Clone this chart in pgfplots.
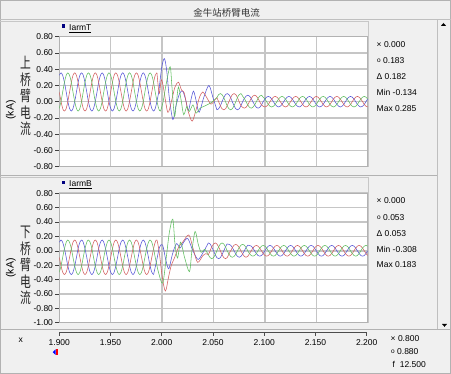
\documentclass[border=0pt]{standalone}
\usepackage{fontspec}
\setmainfont{Liberation Sans}
\newfontfamily\cjk{Noto Sans CJK SC}
\usepackage{pgfplots}
\usepackage{pgfplotstable}
\pgfplotsset{compat=1.18}
\definecolor{bg}{RGB}{240,240,240}
\definecolor{gridc}{RGB}{198,198,198}
\definecolor{cb}{RGB}{85,85,215}
\definecolor{cr}{RGB}{210,95,95}
\definecolor{cg}{RGB}{95,190,95}
\newcommand{\fs}{\fontsize{8.5}{9}\selectfont}
\newcommand{\circm}{\raisebox{1.2pt}{\fontsize{6.5}{6.5}\selectfont o}}

% ---- top panel (IarmT) ----
\pgfplotstableread{
t b r g
1.9000 0.324 0.120 -0.084
1.9017 0.355 0.003 0.003
1.9033 0.324 -0.084 0.120
1.9050 0.238 -0.115 0.238
1.9067 0.120 -0.084 0.324
1.9083 0.003 0.003 0.355
1.9100 -0.084 0.120 0.324
1.9117 -0.115 0.238 0.238
1.9133 -0.084 0.324 0.120
1.9150 0.003 0.355 0.003
1.9167 0.120 0.324 -0.084
1.9183 0.238 0.238 -0.115
1.9200 0.324 0.120 -0.084
1.9217 0.355 0.003 0.003
1.9233 0.324 -0.084 0.120
1.9250 0.238 -0.115 0.238
1.9267 0.120 -0.084 0.324
1.9283 0.003 0.003 0.355
1.9300 -0.084 0.120 0.324
1.9317 -0.115 0.238 0.238
1.9333 -0.084 0.324 0.120
1.9350 0.003 0.355 0.003
1.9367 0.120 0.324 -0.084
1.9383 0.238 0.238 -0.115
1.9400 0.324 0.120 -0.084
1.9417 0.355 0.003 0.003
1.9433 0.324 -0.084 0.120
1.9450 0.238 -0.115 0.238
1.9467 0.120 -0.084 0.324
1.9483 0.003 0.003 0.355
1.9500 -0.084 0.120 0.324
1.9517 -0.115 0.238 0.238
1.9533 -0.084 0.324 0.120
1.9550 0.003 0.355 0.003
1.9567 0.120 0.324 -0.084
1.9583 0.238 0.238 -0.115
1.9600 0.324 0.120 -0.084
1.9617 0.355 0.003 0.003
1.9633 0.324 -0.084 0.120
1.9650 0.238 -0.115 0.238
1.9667 0.120 -0.084 0.324
1.9683 0.003 0.003 0.355
1.9700 -0.084 0.120 0.324
1.9717 -0.115 0.238 0.238
1.9733 -0.084 0.324 0.120
1.9750 0.003 0.355 0.003
1.9767 0.120 0.324 -0.084
1.9783 0.238 0.238 -0.115
1.9800 0.324 0.120 -0.084
1.9817 0.355 0.003 0.003
1.9833 0.324 -0.084 0.120
1.9850 0.238 -0.115 0.238
1.9867 0.120 -0.084 0.324
1.9883 0.003 0.003 0.355
1.9900 -0.084 0.120 0.324
1.9917 -0.115 0.238 0.238
1.9933 -0.084 0.324 0.120
1.9950 0.003 0.355 0.003
}\toppre

\pgfplotstableread{
t b r g
2.0533 -0.100 0.050 0.050
2.0550 -0.087 0.000 0.087
2.0567 -0.050 -0.050 0.100
2.0583 0.000 -0.087 0.087
2.0600 0.050 -0.100 0.050
2.0617 0.087 -0.087 0.000
2.0633 0.100 -0.050 -0.050
2.0650 0.087 0.000 -0.087
2.0667 0.050 0.050 -0.100
2.0683 0.000 0.087 -0.087
2.0700 -0.050 0.100 -0.050
2.0717 -0.087 0.087 0.000
2.0733 -0.100 0.050 0.050
2.0750 -0.087 0.000 0.087
2.0767 -0.050 -0.050 0.100
2.0783 0.000 -0.069 0.069
2.0800 0.040 -0.080 0.040
2.0817 0.069 -0.069 0.000
2.0833 0.080 -0.040 -0.040
2.0850 0.069 0.000 -0.069
2.0867 0.040 0.040 -0.080
2.0883 0.000 0.069 -0.069
2.0900 -0.040 0.080 -0.040
2.0917 -0.069 0.069 0.000
2.0933 -0.080 0.040 0.040
2.0950 -0.069 0.000 0.069
2.0967 -0.040 -0.040 0.080
2.0983 0.000 -0.056 0.056
2.1000 0.033 -0.065 0.033
2.1017 0.056 -0.056 0.000
2.1033 0.065 -0.033 -0.033
2.1050 0.056 0.000 -0.056
2.1067 0.033 0.033 -0.065
2.1083 0.000 0.056 -0.056
2.1100 -0.033 0.065 -0.033
2.1117 -0.056 0.056 0.000
2.1133 -0.065 0.033 0.033
2.1150 -0.056 0.000 0.056
2.1167 -0.033 -0.033 0.065
2.1183 0.000 -0.056 0.056
2.1200 0.033 -0.065 0.033
2.1217 0.056 -0.056 0.000
2.1233 0.065 -0.033 -0.033
2.1250 0.056 0.000 -0.056
2.1267 0.033 0.033 -0.065
2.1283 0.000 0.056 -0.056
2.1300 -0.033 0.065 -0.033
2.1317 -0.056 0.056 0.000
2.1333 -0.065 0.033 0.033
2.1350 -0.056 0.000 0.056
2.1367 -0.033 -0.033 0.065
2.1383 0.000 -0.056 0.056
2.1400 0.033 -0.065 0.033
2.1417 0.056 -0.056 0.000
2.1433 0.065 -0.033 -0.033
2.1450 0.056 0.000 -0.056
2.1467 0.033 0.033 -0.065
2.1483 0.000 0.056 -0.056
2.1500 -0.033 0.065 -0.033
2.1517 -0.056 0.056 0.000
2.1533 -0.065 0.033 0.033
2.1550 -0.056 0.000 0.056
2.1567 -0.033 -0.033 0.065
2.1583 0.000 -0.056 0.056
2.1600 0.033 -0.065 0.033
2.1617 0.056 -0.056 0.000
2.1633 0.065 -0.033 -0.033
2.1650 0.056 0.000 -0.056
2.1667 0.033 0.033 -0.065
2.1683 0.000 0.056 -0.056
2.1700 -0.033 0.065 -0.033
2.1717 -0.056 0.056 0.000
2.1733 -0.065 0.033 0.033
2.1750 -0.056 0.000 0.056
2.1767 -0.033 -0.033 0.065
2.1783 0.000 -0.056 0.056
2.1800 0.033 -0.065 0.033
2.1817 0.056 -0.056 0.000
2.1833 0.065 -0.033 -0.033
2.1850 0.056 0.000 -0.056
2.1867 0.033 0.033 -0.065
2.1883 0.000 0.056 -0.056
2.1900 -0.033 0.065 -0.033
2.1917 -0.056 0.056 0.000
2.1933 -0.065 0.033 0.033
2.1950 -0.056 0.000 0.056
2.1967 -0.033 -0.033 0.065
2.1983 0.000 -0.056 0.056
2.2000 0.033 -0.065 0.033
}\toppost

% ---- bottom panel (IarmB) ----
\pgfplotstableread{
t b r g
1.9000 0.118 -0.090 -0.298
1.9017 0.150 -0.210 -0.210
1.9033 0.118 -0.298 -0.090
1.9050 0.030 -0.330 0.030
1.9067 -0.090 -0.298 0.118
1.9083 -0.210 -0.210 0.150
1.9100 -0.298 -0.090 0.118
1.9117 -0.330 0.030 0.030
1.9133 -0.298 0.118 -0.090
1.9150 -0.210 0.150 -0.210
1.9167 -0.090 0.118 -0.298
1.9183 0.030 0.030 -0.330
1.9200 0.118 -0.090 -0.298
1.9217 0.150 -0.210 -0.210
1.9233 0.118 -0.298 -0.090
1.9250 0.030 -0.330 0.030
1.9267 -0.090 -0.298 0.118
1.9283 -0.210 -0.210 0.150
1.9300 -0.298 -0.090 0.118
1.9317 -0.330 0.030 0.030
1.9333 -0.298 0.118 -0.090
1.9350 -0.210 0.150 -0.210
1.9367 -0.090 0.118 -0.298
1.9383 0.030 0.030 -0.330
1.9400 0.118 -0.090 -0.298
1.9417 0.150 -0.210 -0.210
1.9433 0.118 -0.298 -0.090
1.9450 0.030 -0.330 0.030
1.9467 -0.090 -0.298 0.118
1.9483 -0.210 -0.210 0.150
1.9500 -0.298 -0.090 0.118
1.9517 -0.330 0.030 0.030
1.9533 -0.298 0.118 -0.090
1.9550 -0.210 0.150 -0.210
1.9567 -0.090 0.118 -0.298
1.9583 0.030 0.030 -0.330
1.9600 0.118 -0.090 -0.298
1.9617 0.150 -0.210 -0.210
1.9633 0.118 -0.298 -0.090
1.9650 0.030 -0.330 0.030
1.9667 -0.090 -0.298 0.118
1.9683 -0.210 -0.210 0.150
1.9700 -0.298 -0.090 0.118
1.9717 -0.330 0.030 0.030
1.9733 -0.298 0.118 -0.090
1.9750 -0.210 0.150 -0.210
1.9767 -0.090 0.118 -0.298
1.9783 0.030 0.030 -0.330
1.9800 0.118 -0.090 -0.298
1.9817 0.150 -0.210 -0.210
1.9833 0.118 -0.298 -0.090
1.9850 0.030 -0.330 0.030
1.9867 -0.090 -0.298 0.118
1.9883 -0.210 -0.210 0.150
1.9900 -0.298 -0.090 0.118
1.9917 -0.330 0.030 0.030
}\botpre

\pgfplotstableread{
t b r g
2.0450 0.110 -0.055 -0.055
2.0467 0.095 0.000 -0.095
2.0483 0.055 0.055 -0.110
2.0500 0.000 0.095 -0.095
2.0517 -0.055 0.110 -0.055
2.0533 -0.095 0.095 0.000
2.0550 -0.110 0.055 0.055
2.0567 -0.095 0.000 0.095
2.0583 -0.055 -0.055 0.110
2.0600 0.000 -0.095 0.095
2.0617 0.055 -0.110 0.055
2.0633 0.095 -0.095 0.000
2.0650 0.090 -0.045 -0.045
2.0667 0.078 0.000 -0.078
2.0683 0.045 0.045 -0.090
2.0700 0.000 0.078 -0.078
2.0717 -0.045 0.090 -0.045
2.0733 -0.078 0.078 0.000
2.0750 -0.090 0.045 0.045
2.0767 -0.078 0.000 0.078
2.0783 -0.045 -0.045 0.090
2.0800 0.000 -0.078 0.078
2.0817 0.045 -0.090 0.045
2.0833 0.078 -0.078 0.000
2.0850 0.075 -0.038 -0.038
2.0867 0.065 0.000 -0.065
2.0883 0.038 0.038 -0.075
2.0900 0.000 0.065 -0.065
2.0917 -0.038 0.075 -0.038
2.0933 -0.065 0.065 0.000
2.0950 -0.075 0.038 0.038
2.0967 -0.065 0.000 0.065
2.0983 -0.038 -0.038 0.075
2.1000 0.000 -0.065 0.065
2.1017 0.038 -0.075 0.038
2.1033 0.065 -0.065 0.000
2.1050 0.075 -0.038 -0.038
2.1067 0.065 0.000 -0.065
2.1083 0.038 0.038 -0.075
2.1100 0.000 0.065 -0.065
2.1117 -0.038 0.075 -0.038
2.1133 -0.065 0.065 0.000
2.1150 -0.075 0.038 0.038
2.1167 -0.065 0.000 0.065
2.1183 -0.038 -0.038 0.075
2.1200 0.000 -0.065 0.065
2.1217 0.038 -0.075 0.038
2.1233 0.065 -0.065 0.000
2.1250 0.075 -0.038 -0.038
2.1267 0.065 0.000 -0.065
2.1283 0.038 0.038 -0.075
2.1300 0.000 0.065 -0.065
2.1317 -0.038 0.075 -0.038
2.1333 -0.065 0.065 0.000
2.1350 -0.075 0.038 0.038
2.1367 -0.065 0.000 0.065
2.1383 -0.038 -0.038 0.075
2.1400 0.000 -0.065 0.065
2.1417 0.038 -0.075 0.038
2.1433 0.065 -0.065 0.000
2.1450 0.075 -0.038 -0.038
2.1467 0.065 0.000 -0.065
2.1483 0.038 0.038 -0.075
2.1500 0.000 0.065 -0.065
2.1517 -0.038 0.075 -0.038
2.1533 -0.065 0.065 0.000
2.1550 -0.075 0.038 0.038
2.1567 -0.065 0.000 0.065
2.1583 -0.038 -0.038 0.075
2.1600 0.000 -0.065 0.065
2.1617 0.038 -0.075 0.038
2.1633 0.065 -0.065 0.000
2.1650 0.075 -0.038 -0.038
2.1667 0.065 0.000 -0.065
2.1683 0.038 0.038 -0.075
2.1700 0.000 0.065 -0.065
2.1717 -0.038 0.075 -0.038
2.1733 -0.065 0.065 0.000
2.1750 -0.075 0.038 0.038
2.1767 -0.065 0.000 0.065
2.1783 -0.038 -0.038 0.075
2.1800 0.000 -0.065 0.065
2.1817 0.038 -0.075 0.038
2.1833 0.065 -0.065 0.000
2.1850 0.075 -0.038 -0.038
2.1867 0.065 0.000 -0.065
2.1883 0.038 0.038 -0.075
2.1900 0.000 0.065 -0.065
2.1917 -0.038 0.075 -0.038
2.1933 -0.065 0.065 0.000
2.1950 -0.075 0.038 0.038
2.1967 -0.065 0.000 0.065
2.1983 -0.038 -0.038 0.075
2.2000 0.000 -0.065 0.065
}\botpost

\pgfplotsset{
  panel/.style={
    scale only axis, width=308.4pt,
    xmin=1.9, xmax=2.2,
    xtick={1.95,2,2.05,2.1,2.15}, xticklabels={},
    xtick style={draw=none},
    ytick pos=left, tick align=outside, major tick length=4pt,
    ytick style={color=black!75, line width=0.6pt},
    grid=major, major grid style={gridc, line width=1.6pt},
    axis line style={draw=black!30, line width=1pt},
    axis background/.style={fill=white},
    tick label style={font=\fs},
    yticklabel style={xshift=1.2pt},
    every axis plot/.append style={line width=0.55pt, smooth},
  }
}

\begin{document}
\begin{tikzpicture}
\path[use as bounding box] (0,0) rectangle (451pt,374pt);
\fill[bg] (0,0) rectangle (451pt,374pt);
\draw[black!30] (0.5pt,0.5pt) rectangle (450.5pt,373.5pt);
% title bar
\draw[black!25] (0pt,354.5pt) -- (451pt,354.5pt);
\node[font=\cjk\fontsize{9.5}{10}\selectfont, text=black!80] at (226.7pt,361.5pt) {金牛站桥臂电流};
% panel frames
\draw[black!22] (0pt,352.5pt) -- (367.7pt,352.5pt) -- (367.7pt,207pt);
\draw[black!30, line width=1.4pt] (0pt,198.3pt) -- (437pt,198.3pt);
\draw[black!22] (0pt,196.5pt) -- (367.7pt,196.5pt) -- (367.7pt,51pt);
\draw[black!30] (0pt,44.5pt) -- (451pt,44.5pt);
% scrollbar
\draw[black!25] (437pt,44.5pt) -- (437pt,354.5pt);
\fill[black] (441pt,348.2pt) -- (446pt,348.2pt) -- (443.5pt,351pt) -- cycle;
\fill[black] (442pt,50pt) -- (447pt,50pt) -- (444.5pt,47.2pt) -- cycle;

% ---------------- top panel ----------------
\begin{axis}[panel, at={(59.3pt,207.3pt)}, anchor=south west, height=130pt,
  ymin=-0.8, ymax=0.8,
  ytick={-0.8,-0.6,-0.4,-0.2,0,0.2,0.4,0.6,0.8},
  yticklabels={-0.80,-0.60,-0.40,-0.20,0.00,0.20,0.40,0.60,0.80}]
\addplot[cb] table[x=t,y=b]{\toppre};
\addplot[cr] table[x=t,y=r]{\toppre};
\addplot[cg] table[x=t,y=g]{\toppre};
\addplot[cb] coordinates {(1.9950,0.003) (1.9967,0.120) (1.9983,0.290) (2.0000,0.450) (2.0023,0.530) (2.0045,0.380) (2.0070,0.050) (2.0105,-0.220) (2.0135,-0.050) (2.0170,0.100) (2.0200,0.130) (2.0230,0.020) (2.0255,-0.110) (2.0280,0.020) (2.0305,0.130) (2.0330,0.020) (2.0360,-0.130) (2.0405,0.050) (2.0455,0.200) (2.0495,0.050) (2.0533,-0.100)};
\addplot[cr] coordinates {(1.9950,0.355) (1.9972,0.100) (1.9992,0.270) (2.0012,0.180) (2.0055,-0.130) (2.0090,0.000) (2.0125,0.180) (2.0159,0.240) (2.0190,0.140) (2.0215,0.110) (2.0250,-0.100) (2.0292,-0.240) (2.0330,-0.100) (2.0365,0.060) (2.0396,0.120) (2.0430,0.060) (2.0475,-0.030) (2.0510,0.020) (2.0533,0.050)};
\addplot[cg] coordinates {(1.9950,0.003) (1.9967,-0.084) (1.9983,-0.115) (2.0010,0.000) (2.0040,0.220) (2.0078,0.430) (2.0095,0.200) (2.0120,-0.180) (2.0140,0.000) (2.0159,0.180) (2.0185,0.020) (2.0210,-0.160) (2.0240,-0.060) (2.0265,-0.120) (2.0300,-0.040) (2.0330,-0.140) (2.0370,-0.080) (2.0420,-0.050) (2.0480,-0.010) (2.0533,0.050)};
\addplot[cb] table[x=t,y=b]{\toppost};
\addplot[cr] table[x=t,y=r]{\toppost};
\addplot[cg] table[x=t,y=g]{\toppost};
\end{axis}

% ---------------- bottom panel ----------------
\begin{axis}[panel, at={(59.3pt,51.3pt)}, anchor=south west, height=129.4pt,
  ymin=-1.0, ymax=0.8,
  ytick={-1,-0.8,-0.6,-0.4,-0.2,0,0.2,0.4,0.6,0.8},
  yticklabels={-1.00,-0.80,-0.60,-0.40,-0.20,0.00,0.20,0.40,0.60,0.80}]
\addplot[cb] table[x=t,y=b]{\botpre};
\addplot[cr] table[x=t,y=r]{\botpre};
\addplot[cg] table[x=t,y=g]{\botpre};
\addplot[cb] coordinates {(1.9917,-0.330) (1.9945,-0.150) (1.9975,0.050) (2.0005,0.080) (2.0035,-0.120) (2.0065,-0.250) (2.0100,-0.050) (2.0140,0.100) (2.0175,0.040) (2.0210,0.120) (2.0250,0.170) (2.0300,0.000) (2.0350,-0.120) (2.0400,-0.020) (2.0450,0.110)};
\addplot[cr] coordinates {(1.9917,0.030) (1.9933,0.118) (1.9950,0.150) (1.9975,-0.050) (2.0000,-0.350) (2.0032,-0.560) (2.0065,-0.350) (2.0090,-0.200) (2.0120,-0.100) (2.0160,0.050) (2.0200,0.120) (2.0260,0.220) (2.0300,0.040) (2.0345,-0.160) (2.0395,-0.070) (2.0425,-0.040) (2.0450,-0.055)};
\addplot[cg] coordinates {(1.9917,0.030) (1.9933,-0.090) (1.9965,-0.300) (2.0006,-0.450) (2.0040,-0.100) (2.0070,0.250) (2.0104,0.440) (2.0125,0.100) (2.0150,-0.100) (2.0180,0.120) (2.0220,-0.100) (2.0266,-0.290) (2.0290,0.000) (2.0321,0.270) (2.0350,0.100) (2.0380,-0.020) (2.0415,0.020) (2.0450,-0.055)};
\addplot[cb] table[x=t,y=b]{\botpost};
\addplot[cr] table[x=t,y=r]{\botpost};
\addplot[cg] table[x=t,y=g]{\botpost};
\end{axis}

% ---------------- time ruler ----------------
\begin{axis}[at={(59.3pt,41.3pt)}, anchor=south west, scale only axis,
  width=307.4pt, height=10pt, xmin=1.9, xmax=2.2, ymin=0, ymax=1,
  hide y axis, axis x line*=bottom,
  xtick={1.9,1.95,2,2.05,2.1,2.15,2.2},
  xticklabels={1.900,1.950,2.000,2.050,2.100,2.150,2.200},
  tick align=outside, major tick length=3pt,
  x axis line style={black!70, line width=0.8pt},
  xtick style={black!70, line width=0.6pt},
  tick label style={font=\fs}]
\addplot[draw=none] coordinates {(1.9,0.5) (2.2,0.5)};
\end{axis}

% legends
\fill[blue!50!black] (61.5pt,346pt) rectangle (65.3pt,349.6pt);
\node[anchor=west, font=\fs, inner sep=0pt] at (69pt,345.5pt) {\underline{IarmT}};
\fill[blue!50!black] (61.5pt,189.5pt) rectangle (65.3pt,193.1pt);
\node[anchor=west, font=\fs, inner sep=0pt] at (69pt,189pt) {\underline{IarmB}};

% y labels
\node[xscale=0.72, align=center, text=black!85, font=\cjk\fontsize{15}{16.4}\selectfont] at (25.5pt,278pt) {上\\桥\\臂\\电\\流};
\node[rotate=90, font=\fontsize{10.5}{11}\selectfont] at (11pt,264pt) {(kA)};
\node[xscale=0.72, align=center, text=black!85, font=\cjk\fontsize{15}{16.4}\selectfont] at (25.5pt,108.5pt) {下\\桥\\臂\\电\\流};
\node[rotate=90, font=\fontsize{10.5}{11}\selectfont] at (11pt,106pt) {(kA)};

% right info texts
\begin{scope}[every node/.style={anchor=west, font=\fs, inner sep=0pt}]
\node at (376.5pt,329pt) {× 0.000};
\node at (377pt,313.3pt) {\circm\ 0.183};
\node at (376.5pt,297.3pt) {Δ 0.182};
\node at (376.5pt,281.3pt) {Min -0.134};
\node at (376.5pt,265.3pt) {Max 0.285};
\node at (376.5pt,173pt) {× 0.000};
\node at (377pt,156.7pt) {\circm\ 0.053};
\node at (376.5pt,140.7pt) {Δ 0.053};
\node at (376.5pt,125pt) {Min -0.308};
\node at (376.5pt,109pt) {Max 0.183};
\node at (390.5pt,35pt) {× 0.800};
\node at (391pt,22.3pt) {\circm\ 0.880};
\node at (392.5pt,9.7pt) {f\ \ 12.500};
\node at (18.5pt,34pt) {x};
\end{scope}
% time cursor marker
\fill[blue] (52.7pt,21.8pt) -- (55.6pt,24.6pt) -- (55.6pt,19pt) -- cycle;
\fill[red] (55.6pt,19pt) rectangle (58.2pt,24.6pt);
\end{tikzpicture}
\end{document}
